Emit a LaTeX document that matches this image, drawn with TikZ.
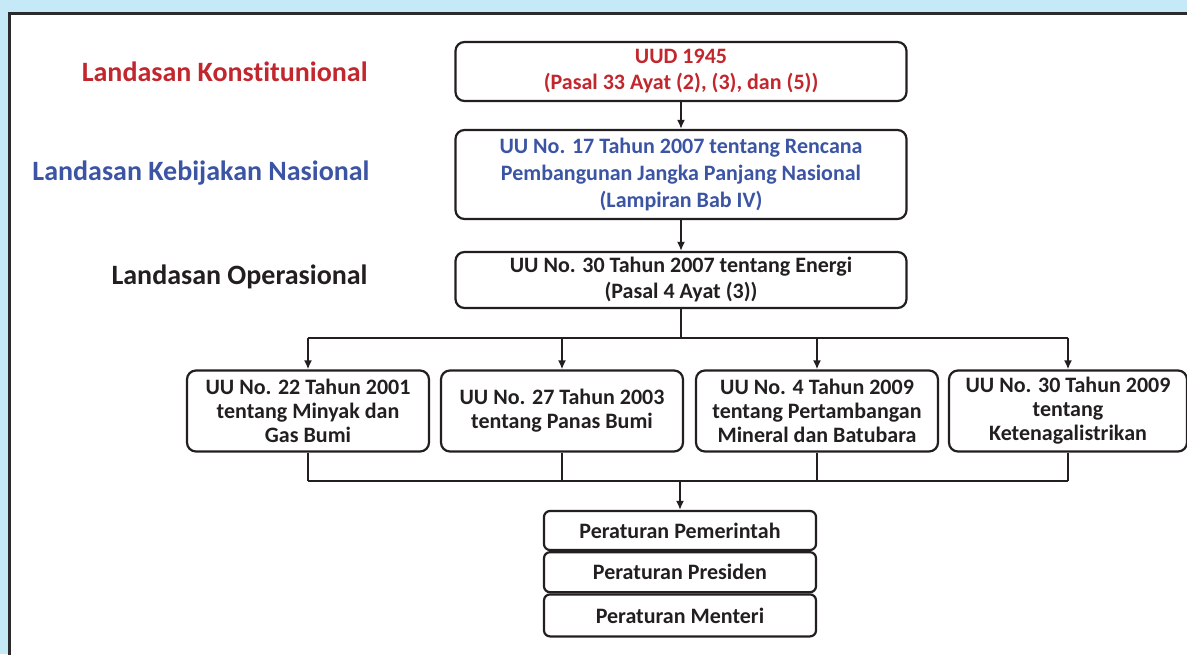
\documentclass[tikz,border=0pt]{standalone}
\usepackage{fontspec}
\setmainfont{Carlito}[Ligatures=NoCommon]
\usepackage{tikz}
\usetikzlibrary{arrows.meta}

\definecolor{bgblue}{HTML}{C6E9F8}
\definecolor{framegray}{HTML}{2B2B2B}
\definecolor{txtgray}{HTML}{231F20}
\definecolor{konred}{HTML}{C1272D}
\definecolor{kebblue}{HTML}{3B54A4}

\tikzset{
  lawbox/.style={draw=txtgray, line width=2.2pt, rounded corners=9pt, align=center,
    text=txtgray, font=\bfseries\fontsize{22}{24}\selectfont, inner sep=0pt},
  rulebox/.style={draw=txtgray, line width=2.2pt, rounded corners=6pt, align=center,
    text=txtgray, font=\bfseries\fontsize{22}{22}\selectfont, inner sep=0pt,
    minimum width=272pt},
  leftlabel/.style={anchor=east, font=\bfseries\fontsize{28}{30}\selectfont},
  link/.style={line width=2pt, draw=txtgray},
  arrowlink/.style={link, -{Latex[length=9pt,width=8pt]}}
}

\begin{document}
\begin{tikzpicture}[x=1pt,y=-1pt]
    \useasboundingbox (0,0) rectangle (1187,654);
    \fill[bgblue] (0,0) rectangle (1187,654);
    \filldraw[fill=white, draw=framegray, line width=3pt] (9.5,13) rectangle (1200,670);

    % landasan
    \node[leftlabel, text=konred] (lkon) at (371,72) {Landasan Konstitunional};
    \node[leftlabel, text=kebblue] (lkeb) at (373,173) {Landasan Kebijakan Nasional};
    \node[leftlabel, text=txtgray] (lops) at (371,277) {Landasan Operasional};

    % main column
    \node[lawbox, text=konred, minimum width=451pt, minimum height=59pt, font=\bfseries\fontsize{22}{26}\selectfont] (uud) at (681,71.5)
        {UUD 1945\\(Pasal 33 Ayat (2), (3), dan (5))};
    \node[lawbox, text=kebblue, minimum width=451pt, minimum height=89pt, font=\bfseries\fontsize{22}{27}\selectfont] (rpjpn) at (681,174.5)
        {UU No. 17 Tahun 2007 tentang Rencana\\Pembangunan Jangka Panjang Nasional\\(Lampiran Bab IV)};
    \node[lawbox, minimum width=451pt, minimum height=56pt, font=\bfseries\fontsize{22}{26}\selectfont] (energi) at (681,280)
        {UU No. 30 Tahun 2007 tentang Energi\\(Pasal 4 Ayat (3))};

    % sector laws
    \node[lawbox, minimum width=242pt, minimum height=81pt] (migas) at (308,411)
        {UU No. 22 Tahun 2001\\tentang Minyak dan\\Gas Bumi};
    \node[lawbox, minimum width=242pt, minimum height=81pt] (panas) at (562,411)
        {UU No. 27 Tahun 2003\\tentang Panas Bumi};
    \node[lawbox, minimum width=242pt, minimum height=81pt] (minerba) at (817,411)
        {UU No. 4 Tahun 2009\\tentang Pertambangan\\Mineral dan Batubara};
    \node[lawbox, minimum width=238pt, minimum height=81pt] (listrik) at (1068,411)
        {UU No. 30 Tahun 2009\\tentang\\Ketenagalistrikan};

    % regulations
    \node[rulebox, minimum height=39pt] (pp) at (680,530.5) {Peraturan Pemerintah};
    \node[rulebox, minimum height=40pt, anchor=north] (perpres) at (pp.south) {Peraturan Presiden};
    \node[rulebox, minimum height=42pt, anchor=north] (permen) at (perpres.south) {Peraturan Menteri};

    % connectors
    \draw[arrowlink] (uud) -- (rpjpn);
    \draw[arrowlink] (rpjpn) -- (energi);
    \coordinate (split) at (681,338);
    \coordinate (splitl) at (308,338);
    \coordinate (splitr) at (1068,338);
    \draw[link] (energi.south) -- (split);
    \draw[link] (splitl) -- (splitr);
    \foreach \law in {migas,panas,minerba,listrik}
        \draw[arrowlink] (\law.north |- split) -- (\law.north);
    \coordinate (join) at (680,481);
    \coordinate (joinl) at (308,481);
    \coordinate (joinr) at (1068,481);
    \foreach \law in {migas,panas,minerba,listrik}
        \draw[link] (\law.south) -- (\law.south |- join);
    \draw[link] (joinl) -- (joinr);
    \draw[arrowlink] (join) -- (pp.north);
\end{tikzpicture}
\end{document}
